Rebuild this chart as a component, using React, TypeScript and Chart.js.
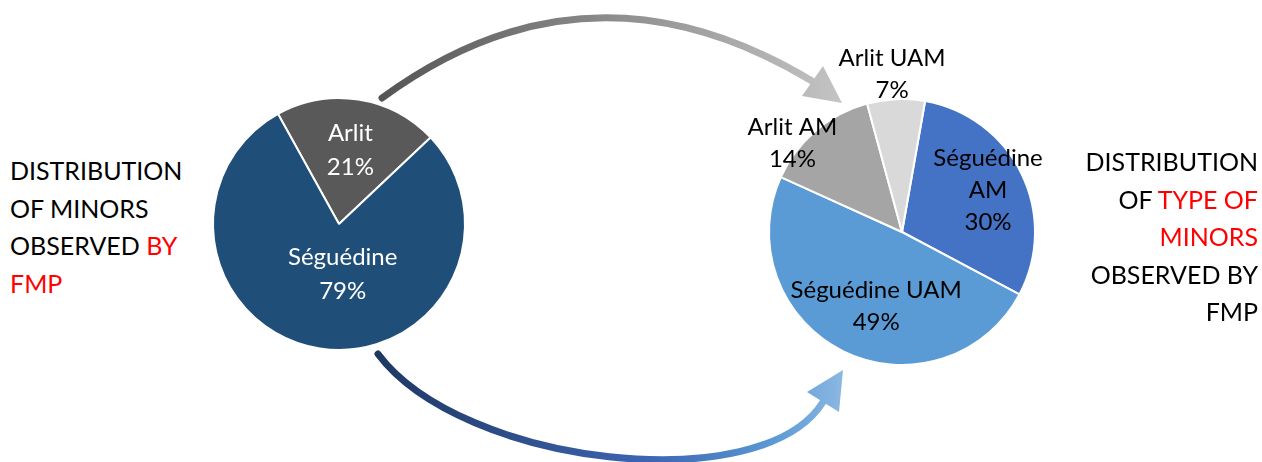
import React, { useEffect, useRef } from "react";
import { Chart, registerables } from "chart.js";

Chart.register(...registerables);

// ---- data ----
const leftCategories = ["Arlit", "Séguédine"];
const leftValues = [21, 79];
const rightCategories = ["Séguédine AM", "Séguédine UAM", "Arlit AM", "Arlit UAM"];
const rightValues = [30, 49, 14, 7];
const rightLabelLines = [["Séguédine", "AM"], ["Séguédine UAM"], ["Arlit AM"], ["Arlit UAM"]];
const leftLabelLines = [["Arlit"], ["Séguédine"]];

// ---- styles ----
const leftColors = ["#595959", "#1F4E79"];
const rightColors = ["#4472C4", "#5B9BD5", "#A5A5A5", "#D9D9D9"];
const leftLabelRadius = [0.59, 0.4];
const leftLabelShift = [0, -13];
const rightLabelRadius = [0.72, 0.59, 1.06, 1.19];
const rightLabelShift = [0, -7, -10.6, -1];
const FONT = "Lato, 'Open Sans', sans-serif";

const sliceLabels = {
  id: "sliceLabels",
  afterDatasetsDraw(chart: any, _args: any, opts: any) {
    const meta = chart.getDatasetMeta(0);
    const values = chart.data.datasets[0].data;
    const ctx = chart.ctx;
    ctx.save();
    ctx.font = `${opts.size}px ${FONT}`;
    ctx.fillStyle = opts.color;
    ctx.textAlign = "center";
    ctx.textBaseline = "middle";
    meta.data.forEach((arc: any, i: number) => {
      const p = arc.getProps(["x", "y", "startAngle", "endAngle", "outerRadius"], true);
      const mid = (p.startAngle + p.endAngle) / 2 + (opts.shift[i] * Math.PI) / 180;
      const r = p.outerRadius * opts.radius[i];
      const cx = p.x + Math.cos(mid) * r;
      const cy = p.y + Math.sin(mid) * r;
      const lines = [...opts.lines[i], values[i] + "%"];
      const lh = opts.lineHeight;
      lines.forEach((t: string, k: number) => {
        ctx.fillText(t, cx, cy + (k - (lines.length - 1) / 2) * lh);
      });
    });
    ctx.restore();
  },
};

function PieCanvas(props: {
  labels: string[];
  values: number[];
  colors: string[];
  rotation: number;
  size: number;
  padding: number;
  left: number;
  top: number;
  labelOpts: any;
}) {
  const ref = useRef<HTMLCanvasElement | null>(null);
  useEffect(() => {
    if (!ref.current) return;
    const chart = new Chart(ref.current, {
      type: "pie",
      data: {
        labels: props.labels,
        datasets: [
          {
            data: props.values,
            backgroundColor: props.colors,
            borderColor: "#FFFFFF",
            borderWidth: 2,
          },
        ],
      },
      options: {
        responsive: false,
        animation: false,
        rotation: props.rotation,
        layout: { padding: props.padding },
        events: [],
        plugins: {
          legend: { display: false },
          tooltip: { enabled: false },
          sliceLabels: props.labelOpts,
        } as any,
      },
      plugins: [sliceLabels as any],
    });
    return () => chart.destroy();
  }, []);
  return (
    <canvas
      ref={ref}
      width={props.size}
      height={props.size}
      style={{
        position: "absolute",
        left: props.left,
        top: props.top,
        width: props.size,
        height: props.size,
      }}
    />
  );
}

const red = { color: "#FF0000" };

export default function App() {
  return (
    <div
      style={{
        position: "fixed",
        left: 0,
        top: 0,
        width: 1262,
        height: 462,
        background: "#FFFFFF",
        overflow: "hidden",
        fontFamily: FONT,
      }}
    >
      <svg
        width={1262}
        height={462}
        style={{ position: "absolute", left: 0, top: 0 }}
      >
        <defs>
          <linearGradient id="gTop" gradientUnits="userSpaceOnUse" x1={382} y1={0} x2={842} y2={0}>
            <stop offset="0" stopColor="#555555" />
            <stop offset="1" stopColor="#C4C4C4" />
          </linearGradient>
          <linearGradient id="gBot" gradientUnits="userSpaceOnUse" x1={378} y1={0} x2={845} y2={0}>
            <stop offset="0" stopColor="#1F3864" />
            <stop offset="0.6" stopColor="#3F67B5" />
            <stop offset="0.85" stopColor="#5B9BD5" />
            <stop offset="1" stopColor="#8DB8E3" />
          </linearGradient>
        </defs>
        <path
          d="M382 98 Q589 -53.5 812 81"
          fill="none"
          stroke="url(#gTop)"
          strokeWidth={7}
          strokeLinecap="round"
        />
        <polygon points="823,66 802,96 842,103" fill="url(#gTop)" />
        <path
          d="M378 354 C462 466 762 500 823 402"
          fill="none"
          stroke="url(#gBot)"
          strokeWidth={7}
          strokeLinecap="round"
        />
        <polygon points="843,370 807,392 839,412" fill="url(#gBot)" />
      </svg>

      <PieCanvas
        labels={leftCategories}
        values={leftValues}
        colors={leftColors}
        rotation={-29}
        size={300}
        padding={23}
        left={189}
        top={74}
        labelOpts={{
          size: 24,
          lineHeight: 34,
          color: "#FFFFFF",
          lines: leftLabelLines,
          radius: leftLabelRadius,
          shift: leftLabelShift,
        }}
      />
      <PieCanvas
        labels={rightCategories}
        values={rightValues}
        colors={rightColors}
        rotation={10}
        size={400}
        padding={66}
        left={702}
        top={32}
        labelOpts={{
          size: 24,
          lineHeight: 32,
          color: "#000000",
          lines: rightLabelLines,
          radius: rightLabelRadius,
          shift: rightLabelShift,
        }}
      />

      <div
        style={{
          position: "absolute",
          left: 10,
          top: 152,
          fontSize: 25,
          lineHeight: "37.5px",
          color: "#000000",
          whiteSpace: "nowrap",
        }}
      >
        <div>DISTRIBUTION</div>
        <div>OF MINORS</div>
        <div>
          OBSERVED <span style={red}>BY</span>
        </div>
        <div style={red}>FMP</div>
      </div>
      <div
        style={{
          position: "absolute",
          right: 4,
          top: 143,
          fontSize: 25,
          lineHeight: "37.5px",
          color: "#000000",
          textAlign: "right",
          whiteSpace: "nowrap",
        }}
      >
        <div>DISTRIBUTION</div>
        <div>
          OF <span style={red}>TYPE OF</span>
        </div>
        <div style={red}>MINORS</div>
        <div>OBSERVED BY</div>
        <div>FMP</div>
      </div>
    </div>
  );
}
